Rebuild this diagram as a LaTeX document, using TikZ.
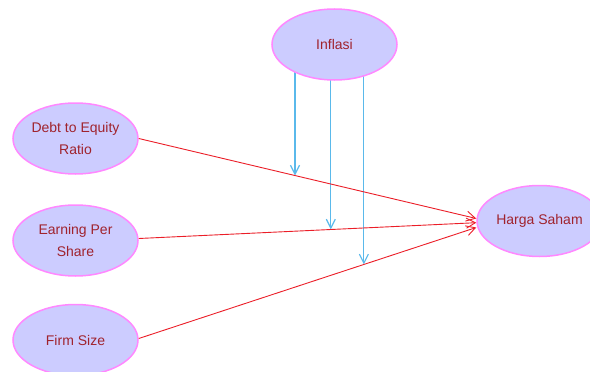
\documentclass[tikz,border=0pt]{standalone}
\usepackage{fontspec}
\setmainfont{Liberation Sans}
\usetikzlibrary{shapes.geometric,arrows.meta,backgrounds}
\definecolor{nodefill}{RGB}{204,204,255}
\definecolor{nodeline}{RGB}{255,136,255}
\definecolor{labelred}{RGB}{160,35,45}
\definecolor{linkred}{RGB}{235,30,40}
\definecolor{linkblue}{RGB}{90,185,235}

\begin{document}
\begin{tikzpicture}[x=1pt,y=-1pt,
  var/.style={ellipse, draw=nodeline, line width=1.5pt, fill=nodefill,
    minimum width=125pt, minimum height=71pt, inner sep=0pt,
    text=labelred, font=\fontsize{14}{22}\selectfont, align=center},
  effect/.style={draw=linkred, line width=0.9pt,
    -{Straight Barb[length=9pt,width=10pt]}},
  moderate/.style={draw=linkblue, line width=1.2pt,
    -{Straight Barb[length=9pt,width=9pt]}}]
\useasboundingbox (0,0) rectangle (590,372);

% variables
\node[var] (inflasi) at (334.5,44.5) {Inflasi};
\node[var] (debt)    at (75.5,138.5) {Debt to Equity\\Ratio};
\node[var] (eps)     at (75.5,240.5) {Earning Per\\Share};
\node[var] (firm)    at (75.5,340)   {Firm Size};
\node[var] (harga)   at (539.5,221)  {Harga Saham};

% direct effects on the share price
\draw[effect] (debt.east) -- coordinate[pos=0.463] (m1) ([yshift=2.5pt]harga.west);
\draw[effect] ([yshift=2pt]eps.east) -- coordinate[pos=0.569] (m2) ([yshift=-1.7pt]harga.west);
\draw[effect] ([yshift=1.5pt]firm.east) -- coordinate[pos=0.667] (m3) ([yshift=-6.5pt]harga.west);

% moderating effects of inflation, starting behind the ellipse
\begin{scope}[on background layer]
  \draw[moderate] (m1 |- inflasi.center) -- (m1);
  \draw[moderate] (m2 |- inflasi.center) -- (m2);
  \draw[moderate] (m3 |- inflasi.center) -- (m3);
\end{scope}
\end{tikzpicture}
\end{document}
